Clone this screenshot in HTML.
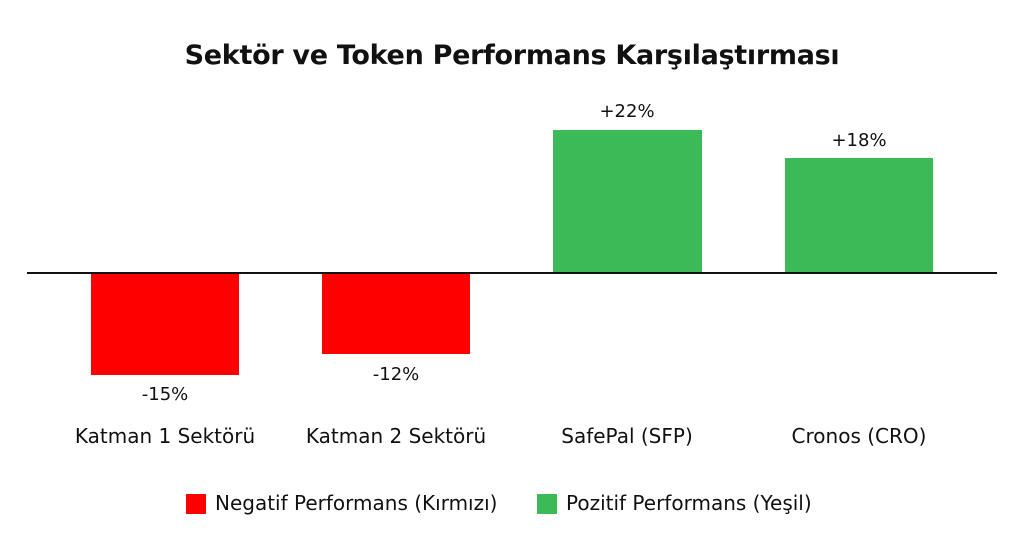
<!DOCTYPE html>
<html><head><meta charset="utf-8"><style>
html,body{margin:0;padding:0;background:#fff;}
body{width:1024px;height:559px;position:relative;overflow:hidden;font-family:"DejaVu Sans","Liberation Sans",sans-serif;color:#111;}
.a{position:absolute;}
.t{position:absolute;white-space:nowrap;transform:translateX(-50%);font-size:18px;}
.c{font-size:20px;}
</style></head><body>
<div class="t" style="left:512px;top:40px;font-size:27px;font-weight:bold;letter-spacing:-0.3px;">Sektör ve Token Performans Karşılaştırması</div>
<div class="a" style="left:27px;top:272px;width:970px;height:2px;background:#111;"></div>
<div class="a" style="left:91px;top:274px;width:148px;height:101px;background:#fe0000;"></div>
<div class="a" style="left:322px;top:274px;width:148px;height:80px;background:#fe0000;"></div>
<div class="a" style="left:553px;top:130px;width:149px;height:142px;background:#3dba58;"></div>
<div class="a" style="left:785px;top:158px;width:148px;height:114px;background:#3dba58;"></div>
<div class="t" style="left:165px;top:384px;">-15%</div>
<div class="t" style="left:396px;top:364px;">-12%</div>
<div class="t" style="left:627px;top:101px;">+22%</div>
<div class="t" style="left:859px;top:130px;">+18%</div>
<div class="t c" style="left:165px;top:424px;">Katman 1 Sektörü</div>
<div class="t c" style="left:396px;top:424px;">Katman 2 Sektörü</div>
<div class="t c" style="left:627px;top:424px;">SafePal (SFP)</div>
<div class="t c" style="left:859px;top:424px;">Cronos (CRO)</div>
<div class="a" style="left:186px;top:494px;width:20px;height:20px;background:#fe0000;"></div>
<div class="a c" style="left:215px;top:491px;white-space:nowrap;">Negatif Performans (Kırmızı)</div>
<div class="a" style="left:537px;top:494px;width:20px;height:20px;background:#3dba58;"></div>
<div class="a c" style="left:566px;top:491px;white-space:nowrap;">Pozitif Performans (Yeşil)</div>
</body></html>
